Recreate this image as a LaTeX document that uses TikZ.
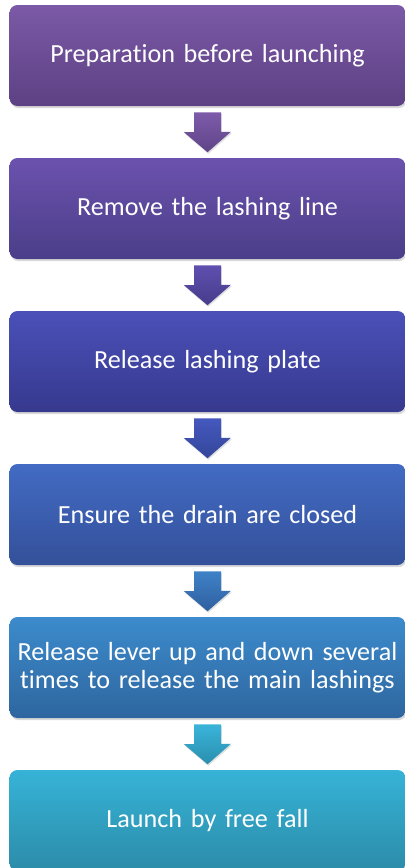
\documentclass[tikz,border=0pt]{standalone}
\usepackage{fontspec}
\setmainfont{Carlito}[Ligatures=NoCommon]
\usepackage{tikz}
\usetikzlibrary{positioning,calc,shadows}

\definecolor{stepAtop}{HTML}{7B59A6}
\definecolor{stepAbot}{HTML}{5D4184}
\definecolor{stepBtop}{HTML}{6B52AE}
\definecolor{stepBbot}{HTML}{4B3E88}
\definecolor{stepCtop}{HTML}{4A50B8}
\definecolor{stepCbot}{HTML}{37398E}
\definecolor{stepDtop}{HTML}{426BC3}
\definecolor{stepDbot}{HTML}{34509A}
\definecolor{stepEtop}{HTML}{3C8BCC}
\definecolor{stepEbot}{HTML}{2E669F}
\definecolor{stepFtop}{HTML}{36B3D7}
\definecolor{stepFbot}{HTML}{2C8CA9}

\begin{document}
\begin{tikzpicture}[x=0.75pt,y=0.75pt,yscale=-1,xscale=1,
  stepbox/.style={rectangle, rounded corners=6pt, draw=none,
    minimum width=297pt, minimum height=75.75pt, inner sep=1.5pt,
    text width=293pt, align=center, text=white,
    font=\fontsize{19.6}{21.5}\selectfont,
    drop shadow={shadow xshift=0.8pt, shadow yshift=-1.6pt, opacity=0.3}},
  blockarrow/.style={drop shadow={shadow xshift=0.6pt, shadow yshift=-1.2pt, opacity=0.25}}]
\useasboundingbox (0,0) rectangle (404,868);

% steps
\node [stepbox, top color=stepAtop, bottom color=stepAbot] (prep) at (207.5,55.5) {Preparation before launching};
\node [stepbox, top color=stepBtop, bottom color=stepBbot, below=38.6pt of prep] (lashline) {Remove the lashing line};
\node [stepbox, top color=stepCtop, bottom color=stepCbot, below=38.6pt of lashline] (plate) {Release lashing plate};
\node [stepbox, top color=stepDtop, bottom color=stepDbot, below=38.6pt of plate] (drain) {Ensure the drain are closed};
\node [stepbox, top color=stepEtop, bottom color=stepEbot, below=38.6pt of drain] (lever) {Release lever up and down several\\times to release the main lashings};
\node [stepbox, top color=stepFtop, bottom color=stepFbot, below=38.6pt of lever] (fall) {Launch by free fall};

% block arrows between steps
\foreach \a/\b/\c/\d in {prep/lashline/7D5BAA/5F4487, lashline/plate/5F4FB0/463C8A,
    plate/drain/4558BE/34479A, drain/lever/3F82C8/2F5F9F, lever/fall/3AB4DA/2A8FAE}
{
  \definecolor{arrtop}{HTML}{\c}
  \definecolor{arrbot}{HTML}{\d}
  \path [blockarrow, top color=arrtop, bottom color=arrbot]
    ($(\a.south)+(-13.5,6)$) -- ++(27,0) -- ++(0,19.5) -- ++(10,0)
    -- ($(\b.north)+(0,-5.5)$) -- ++(-23.5,-20) -- ++(10,0) -- cycle;
}

\end{tikzpicture}
\end{document}
